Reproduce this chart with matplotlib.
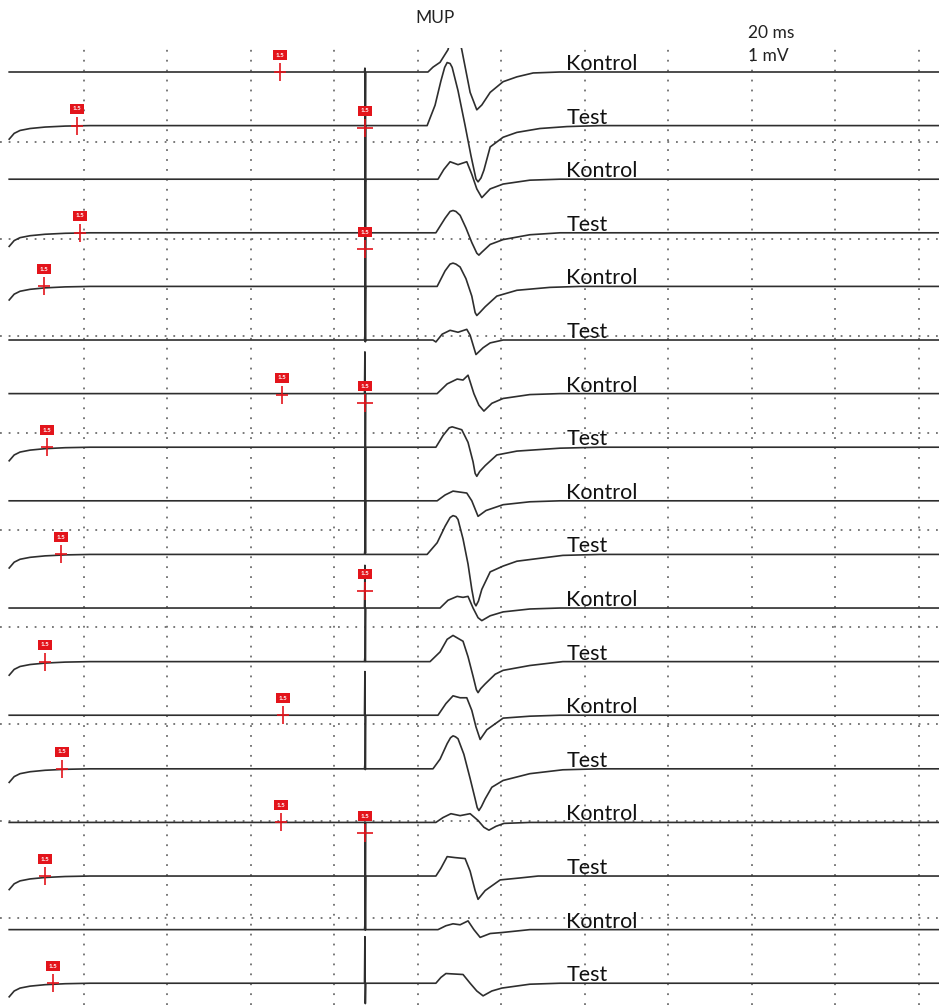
import matplotlib
matplotlib.use("Agg")
import matplotlib.pyplot as plt
from matplotlib.patches import Rectangle

# 18 Kurven, abwechselnd Kontrol / Test
labels = ["Kontrol", "Test"] * 9
# Kurven mit Einschwingen am linken Rand
settle_traces = [1, 3, 4, 7, 9, 11, 13, 15, 17]
settle_t = [2.2, 3.4, 4.8, 7.2, 10.8, 15.6, 21.6]
settle_v = [-0.14, -0.08, -0.05, -0.03, -0.015, -0.005, 0]

t_start = 2.2
t_end = 224.9
t_stim = 87.4
# Reizartefakt (mV relativ zur Grundlinie)
artifact_top = [0.04, 0, 0, 0, 0, 0.05, 0.43, 0, 0, 0.05, 0.44, 0.05, 0.45, 0.05, 0, 0, 0.05, 0.48]
artifact_bottom = [-1.13, -1.13, -1.13, -1.12, -0.57, -0.01, -1.11, -1.09, -0.54, 0, -0.55, 0, -0.56, 0, -1.11, -0.55, 0, -0.21]

# MUP Stützpunkte je Kurve (ms, mV)
mup_t = [
    [102.5, 103.7, 105.4, 107.3, 109.0, 110.6, 112.6, 114.2, 115.4, 117.4, 120.5, 123.8, 127.7, 134.1],
    [102.3, 104.2, 105.6, 106.5, 107.1, 107.8, 108.3, 109.7, 111.4, 112.8, 114.0, 114.5, 115.2, 115.9, 117.4, 120.5, 123.8, 129.3, 135.8, 143.7],
    [104.9, 106.3, 107.8, 109.7, 111.8, 113.0, 114.2, 115.4, 117.4, 120.5, 126.9, 134.1],
    [104.4, 106.6, 107.8, 108.5, 109.2, 110.2, 111.6, 113.0, 114.2, 114.7, 115.4, 117.4, 120.5, 126.9, 134.1],
    [104.7, 106.6, 107.8, 108.5, 109.2, 110.2, 111.6, 113.0, 113.8, 114.2, 114.9, 116.2, 119.0, 123.8, 131.7, 138.9],
    [103.7, 104.4, 105.9, 107.8, 109.7, 111.8, 112.6, 114.0, 115.7, 117.4, 120.5],
    [104.7, 107.1, 109.5, 110.9, 112.1, 113.5, 114.7, 115.9, 117.8, 120.5, 126.9, 134.1],
    [104.4, 106.1, 107.6, 108.3, 110.6, 112.1, 113.3, 113.8, 114.2, 114.9, 116.2, 119.0, 123.8, 134.1, 143.7],
    [104.7, 106.6, 108.5, 111.8, 113.0, 114.5, 116.4, 120.5, 126.9, 134.1],
    [102.3, 104.7, 106.6, 107.8, 108.5, 109.2, 109.7, 110.9, 112.1, 113.0, 113.6, 114.0, 114.6, 115.4, 117.4, 120.5, 123.8, 129.3, 134.8, 143.7],
    [105.4, 107.3, 109.5, 110.9, 112.1, 113.3, 114.5, 115.4, 117.4, 120.5, 126.9, 134.1],
    [103.0, 105.4, 107.1, 108.5, 109.7, 110.9, 112.1, 113.3, 114.1, 114.5, 115.1, 116.2, 118.6, 120.5, 126.9, 134.8],
    [104.9, 106.8, 108.5, 110.2, 111.8, 113.0, 114.0, 115.0, 116.6, 120.5, 126.9, 134.1],
    [103.7, 105.4, 107.1, 107.9, 108.5, 109.1, 109.7, 111.1, 112.6, 113.8, 114.3, 114.7, 115.3, 116.2, 117.8, 120.5, 126.9, 134.8, 143.7],
    [104.4, 106.1, 108.0, 110.2, 112.6, 114.5, 115.9, 117.1, 118.8, 120.7, 126.9],
    [104.4, 105.6, 107.1, 109.0, 111.4, 112.6, 113.8, 114.5, 116.2, 119.8, 124.5, 128.9],
    [104.9, 106.8, 108.5, 110.2, 112.1, 113.5, 115.0, 117.4, 120.2, 126.9],
    [104.4, 105.6, 106.8, 110.9, 112.6, 114.2, 115.7, 117.8, 120.2, 126.9, 134.1],
]
mup_v = [
    [0, .05, .10, .23, .52, .23, -.21, -.39, -.34, -.21, -.10, -.05, -.01, 0],
    [0, .21, .46, .60, .65, .64, .60, .36, 0, -.31, -.55, -.58, -.54, -.46, -.22, -.12, -.07, -.03, -.01, 0],
    [0, .10, .18, .15, .18, .05, -.10, -.19, -.10, -.05, -.01, 0],
    [0, .15, .22, .23, .22, .18, .05, -.10, -.21, -.23, -.20, -.12, -.07, -.02, 0],
    [0, .16, .23, .24, .23, .20, .08, -.10, -.27, -.30, -.27, -.21, -.10, -.04, -.01, 0],
    [0, -.02, .06, .10, .08, .11, .05, -.15, -.08, -.03, 0],
    [0, .10, .15, .14, .19, 0, -.12, -.18, -.10, -.05, -.01, 0],
    [0, .12, .20, .21, .18, .05, -.15, -.27, -.30, -.25, -.19, -.08, -.04, -.01, 0],
    [0, .06, .10, .08, 0, -.16, -.10, -.04, -.01, 0],
    [0, .12, .29, .38, .40, .39, .36, .16, -.10, -.36, -.50, -.53, -.48, -.36, -.18, -.12, -.07, -.04, -.01, 0],
    [0, .08, .12, .11, .12, 0, -.10, -.13, -.08, -.04, -.01, 0],
    [0, .10, .23, .27, .24, .21, .05, -.15, -.29, -.32, -.28, -.23, -.13, -.09, -.04, 0],
    [0, .12, .20, .18, .18, .05, -.12, -.25, -.15, -.03, -.01, 0],
    [0, .10, .26, .32, .34, .33, .31, .15, -.10, -.31, -.40, -.43, -.39, -.31, -.19, -.12, -.05, -.01, 0],
    [0, .05, .09, .07, .09, .02, -.05, -.08, -.04, -.01, 0],
    [0, .08, .20, .19, .18, .05, -.15, -.24, -.15, -.04, -.02, 0],
    [0, .04, .06, .05, .09, 0, -.08, -.04, -.03, 0],
    [0, .06, .10, .09, 0, -.08, -.13, -.08, -.05, -.01, 0],
]

# Cursor-Marker: Kurve, Zeit (ms), Versatz (mV)
marker_trace = [0, 1, 1, 3, 3, 4, 6, 6, 7, 9, 10, 11, 12, 13, 14, 14, 15, 17]
marker_t = [67.1, 18.4, 87.4, 19.2, 87.4, 10.5, 67.5, 87.4, 11.3, 14.6, 87.4, 10.8, 67.8, 14.8, 67.3, 87.4, 10.8, 12.7]
marker_v = [0, 0, -0.02, 0, -0.17, 0, -0.01, -0.10, 0, 0, 0.18, 0, 0, 0, 0, -0.11, 0, 0]

# Raster: 20 ms / Teilung, 1 mV / Teilung
grid_t = [20, 40, 60, 80, 100, 120, 140, 160, 180, 200, 220]
grid_v = [0, -1, -2, -3, -4, -5, -6, -7, -8]

first_offset = 0.7216
trace_step = 0.5526
label_t = 135.6

plt.rcParams['font.family'] = ['Lato', 'DejaVu Sans']
fig = plt.figure(figsize=(9.39, 10.05), dpi=100)
ax = fig.add_axes([0, 0, 1, 957 / 1005])
ax.set_xlim(0, 224.9)
ax.set_ylim(-8.897, 0.969)
ax.axis('off')

for g in grid_t:
    ax.axvline(g, color='#6e6e6e', lw=1.3, linestyle=(0, (1, 4.5)), zorder=1)
for g in grid_v:
    ax.axhline(g, color='#6e6e6e', lw=1.3, linestyle=(0, (1, 3.8)), zorder=1)

for i in range(18):
    base = first_offset - i * trace_step
    if i in settle_traces:
        tt = list(settle_t)
        vv = list(settle_v)
    else:
        tt = [t_start]
        vv = [0]
    tt += [t_stim - 0.1, t_stim, t_stim + 0.1, t_stim + 0.2]
    vv += [0, artifact_top[i], artifact_bottom[i], 0]
    tt += mup_t[i] + [t_end]
    vv += mup_v[i] + [0]
    ax.plot(tt, [v + base for v in vv], color='#2e2e2e', lw=1.2, zorder=3,
            solid_joinstyle='round')
    ax.text(label_t, base + 0.02, labels[i], fontsize=15.5, va='baseline', ha='left', color='#111111', zorder=4)

red = '#e3141b'
for k in range(len(marker_t)):
    base = first_offset - marker_trace[k] * trace_step
    y = base + marker_v[k]
    t = marker_t[k]
    wide = 11.5 if t > 80 else 8.6
    ax.plot([t], [y], marker='|', markersize=13, mew=1.2, color=red, zorder=5)
    ax.plot([t], [y], marker='_', markersize=wide, mew=1.2, color=red, zorder=5)
    ax.add_patch(Rectangle((t - 1.68, y + 0.124), 3.35, 0.103, facecolor=red, edgecolor='none', zorder=6))
    ax.text(t, y + 0.175, "1.5", fontsize=4.5, color='white', ha='center', va='center', fontweight='bold', zorder=7)

fig.text(415 / 939, 1 - 18 / 1005, "MUP", fontsize=12.5, va='center', ha='left', color='#222222')
fig.text(748 / 939, 1 - 33 / 1005, "20 ms", fontsize=12.5, va='center', ha='left', color='#222222')
fig.text(748 / 939, 1 - 56 / 1005, "1 mV", fontsize=12.5, va='center', ha='left', color='#222222')

fig.savefig("out.png", dpi=100)
